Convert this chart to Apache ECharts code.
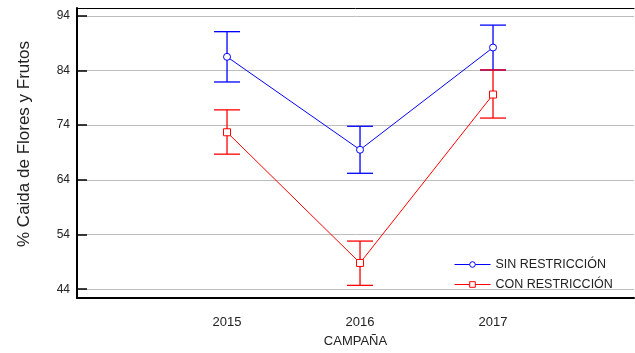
<!DOCTYPE html>
<html><head><meta charset="utf-8">
<script src="https://cdn.jsdelivr.net/npm/echarts@6/dist/echarts.min.js"></script>
<style>html,body{margin:0;padding:0;background:#fff}#c{width:635px;height:353px}</style>
</head><body><div id="c"></div>
<script>
var years = [2015, 2016, 2017];
var yTicks = [44, 54, 64, 74, 84, 94];
var sinMean = [86.5, 69.5, 88.2];
var sinLow = [81.9, 65.2, 84.1];
var sinHigh = [91.1, 73.8, 92.3];
var conMean = [72.7, 48.8, 79.6];
var conLow = [68.7, 44.7, 75.3];
var conHigh = [76.8, 52.8, 84.1];
var seriesNames = ['SIN RESTRICCIÓN', 'CON RESTRICCIÓN'];
var seriesColors = ['#0000ff', '#ff0000'];

var FONT = "'Liberation Sans Narrow','Liberation Sans',Arial,sans-serif";

function pts(means) { return years.map(function (y, i) { return [y, means[i]]; }); }
function errs(lo, hi) { return years.map(function (y, i) { return [y, lo[i], hi[i]]; }); }

function errRender(color) {
  return function (params, api) {
    var x = api.value(0);
    var a = api.coord([x, api.value(1)]);
    var b = api.coord([x, api.value(2)]);
    var hw = 13;
    var st = { stroke: color, lineWidth: 1.3 };
    return { type: 'group', children: [
      { type: 'line', shape: { x1: a[0], y1: a[1], x2: b[0], y2: b[1] }, style: st },
      { type: 'line', shape: { x1: a[0] - hw, y1: a[1], x2: a[0] + hw, y2: a[1] }, style: st },
      { type: 'line', shape: { x1: b[0] - hw, y1: b[1], x2: b[0] + hw, y2: b[1] }, style: st }
    ]};
  };
}

var chart = echarts.init(document.getElementById('c'));
chart.setOption({
  animation: false,
  grid: { left: 77, right: 1, top: 8, bottom: 48 },
  legend: {
    orient: 'vertical', left: 449, top: 253, itemWidth: 36, itemHeight: 7, itemGap: 7,
    textStyle: { fontFamily: FONT, fontSize: 12.5, color: '#222' },
    data: seriesNames.map(function (n, i) {
      return { name: n, lineStyle: { width: 1, color: seriesColors[i] },
        itemStyle: { color: '#fff', borderColor: seriesColors[i], borderWidth: 1 } };
    })
  },
  xAxis: [{
    type: 'value', min: 2013.872, max: 2018.06,
    name: 'CAMPAÑA', nameLocation: 'middle', nameGap: 37,
    nameTextStyle: { fontFamily: FONT, fontSize: 13, color: '#222' },
    axisLine: { lineStyle: { color: '#000', width: 2 } },
    axisTick: { show: false },
    splitLine: { show: false },
    axisLabel: { customValues: years, margin: 18, fontFamily: FONT, fontSize: 13, color: '#222',
      formatter: function (v) { return String(v); } }
  }, {
    type: 'value', position: 'top', min: 2013.872, max: 2018.06,
    axisLine: { show: true, lineStyle: { color: '#000', width: 1 } },
    axisTick: { show: false }, axisLabel: { show: false }, splitLine: { show: false }
  }],
  yAxis: {
    type: 'value', min: 42.39, max: 95.43,
    name: '% Caida de Flores y Frutos', nameLocation: 'middle', nameGap: 44,
    nameTextStyle: { fontFamily: FONT, fontSize: 17, color: '#222', padding: [0, 0, 0, 18] },
    axisLine: { show: true, lineStyle: { color: '#000', width: 2 } },
    axisTick: { show: true, inside: true, length: 10, customValues: yTicks, lineStyle: { color: '#000', width: 1.5 } },
    axisLabel: { customValues: yTicks, margin: 7, fontFamily: FONT, fontSize: 12, color: '#222' },
    splitLine: { show: true, lineStyle: { color: '#bdbdbd', width: 1 } }
  },
  series: [{
    name: seriesNames[0], type: 'line', data: pts(sinMean), color: seriesColors[0],
    symbol: 'circle', symbolSize: 7, lineStyle: { width: 1, color: seriesColors[0] },
    itemStyle: { color: '#ffffff', borderColor: seriesColors[0], borderWidth: 1 }, z: 3
  }, {
    name: seriesNames[1], type: 'line', data: pts(conMean), color: seriesColors[1],
    symbol: 'rect', symbolSize: 7, lineStyle: { width: 1, color: seriesColors[1] },
    itemStyle: { color: '#ffffff', borderColor: seriesColors[1], borderWidth: 1 }, z: 3
  }, {
    type: 'custom', data: errs(sinLow, sinHigh), renderItem: errRender(seriesColors[0]), z: 2, silent: true
  }, {
    type: 'custom', data: errs(conLow, conHigh), renderItem: errRender(seriesColors[1]), z: 2, silent: true
  }]
});
</script></body></html>
